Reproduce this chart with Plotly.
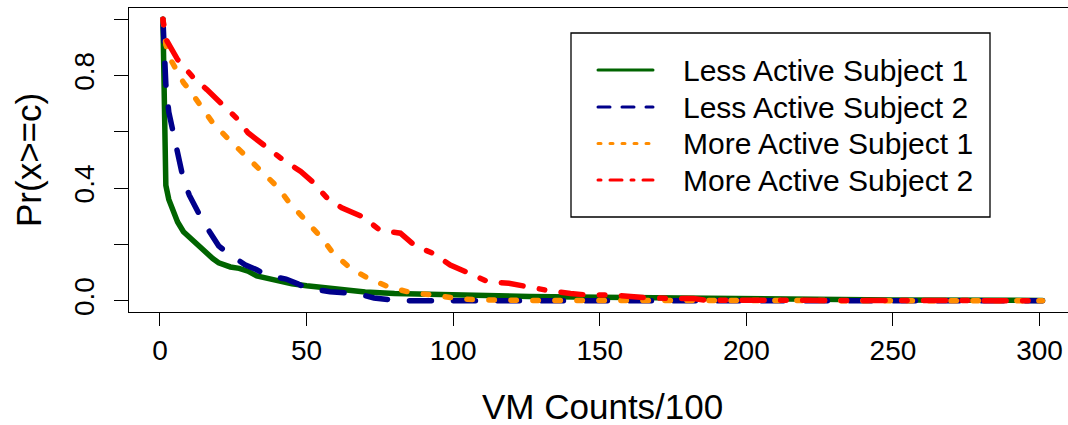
import plotly.graph_objects as go

# Pr(x >= c) for each subject, c = VM counts / 100
c_less1 = [1, 2, 3, 4, 5, 6, 8, 10, 12, 15, 18, 20, 24, 27, 30, 33, 36, 41, 45, 50,
           58, 65, 70, 80, 90, 100, 126, 150, 180, 200, 250, 301]
p_less1 = [1.0, 0.41, 0.36, 0.33, 0.30, 0.28, 0.245, 0.225, 0.21, 0.18, 0.15, 0.135,
           0.12, 0.115, 0.105, 0.088, 0.08, 0.067, 0.06, 0.053, 0.044, 0.036, 0.031,
           0.026, 0.023, 0.02, 0.015, 0.012, 0.008, 0.005, 0.003, 0.001]

c_less2 = [1, 2, 3, 4, 5, 6, 8, 10, 12, 14, 16, 18, 20, 23, 26, 29, 33, 36, 40, 43,
           47, 50, 58, 66, 70, 73, 78, 81, 301]
p_less2 = [1.0, 0.77, 0.67, 0.62, 0.56, 0.51, 0.43, 0.375, 0.33, 0.295, 0.26, 0.225,
           0.195, 0.17, 0.15, 0.128, 0.11, 0.092, 0.083, 0.077, 0.06, 0.045, 0.032,
           0.026, 0.018, 0.01, 0.004, 0.0, 0.0]

c_more1 = [1, 2, 4, 6, 8, 10, 14, 18, 23, 29, 34, 40, 44, 50, 55, 59, 65, 71, 78, 86,
           94, 101, 108, 130, 301]
p_more1 = [1.0, 0.91, 0.85, 0.81, 0.775, 0.75, 0.695, 0.632, 0.578, 0.518, 0.465, 0.405,
           0.35, 0.28, 0.225, 0.17, 0.115, 0.08, 0.049, 0.028, 0.02, 0.008, 0.003,
           0.001, 0.0]

c_more2 = [1, 2, 6, 11, 16, 21, 26, 30, 36, 41, 48, 52, 57, 62, 69, 75, 82, 87, 93, 99,
           105, 112, 119, 125, 132, 140, 146, 154, 161, 166, 174, 182, 186, 301]
p_more2 = [1.0, 0.93, 0.857, 0.797, 0.75, 0.703, 0.65, 0.597, 0.548, 0.508, 0.459, 0.423,
           0.365, 0.33, 0.299, 0.251, 0.24, 0.195, 0.169, 0.127, 0.1, 0.067, 0.062,
           0.049, 0.037, 0.026, 0.02, 0.02, 0.014, 0.011, 0.008, 0.008, 0.002, 0.0]

series_names = ["Less Active Subject 1", "Less Active Subject 2",
                "More Active Subject 1", "More Active Subject 2"]
x_ticks = [0, 50, 100, 150, 200, 250, 300]
y_ticks = [0.0, 0.2, 0.4, 0.6, 0.8, 1.0]
y_tick_text = ["0.0", "", "0.4", "", "0.8", ""]

FONT = "Liberation Sans, Arial, sans-serif"
W, H = 1068, 425
L, R, T, B = 129, 0, 8, 113

colors = ["#006400", "#00008B", "#FF8C00", "#FF0000"]
dashes = ["solid", "22px,22px", "5.5px,16.5px", "5.5px,16.5px,22px,16.5px"]
leg_dashes = ["solid", "12px,12px", "3px,9px", "3px,9px,12px,9px"]


def px_x(px):
    return (px - L) / (W - L - R)


def px_y(py):
    return (H - B - py) / (H - T - B)


fig = go.Figure()
for cx, py_, name, col, dsh in zip(
        [c_less1, c_less2, c_more1, c_more2],
        [p_less1, p_less2, p_more1, p_more2],
        series_names, colors, dashes):
    fig.add_trace(go.Scatter(x=cx, y=py_, mode="lines", name=name,
                             line=dict(color=col, width=5.5, dash=dsh),
                             showlegend=False, hoverinfo="skip"))

shapes = []
annotations = []

# legend box
shapes.append(dict(type="rect", xref="paper", yref="paper",
                   x0=px_x(571), x1=px_x(990), y0=px_y(217), y1=px_y(33),
                   line=dict(color="black", width=1.3), fillcolor="white", layer="above"))
rows = [70, 107, 143.5, 180]
for ry, name, col, dsh in zip(rows, series_names, colors, leg_dashes):
    shapes.append(dict(type="line", xref="paper", yref="paper",
                       x0=px_x(598), x1=px_x(653), y0=px_y(ry), y1=px_y(ry),
                       line=dict(color=col, width=3, dash=dsh), layer="above"))
    annotations.append(dict(text=name, xref="paper", yref="paper",
                            x=px_x(681), y=px_y(ry), xanchor="left", yanchor="middle",
                            showarrow=False, font=dict(family=FONT, size=30, color="black")))

# axis titles
annotations.append(dict(text="VM Counts/100", xref="paper", yref="paper",
                        x=px_x(602), y=px_y(406), xanchor="center", yanchor="middle",
                        showarrow=False, font=dict(family=FONT, size=35, color="black")))
annotations.append(dict(text="Pr(x>=c)", xref="paper", yref="paper",
                        x=px_x(28), y=px_y(160), xanchor="center", yanchor="middle",
                        textangle=-90, showarrow=False,
                        font=dict(family=FONT, size=35, color="black")))

fig.update_layout(
    width=W, height=H,
    margin=dict(l=L, r=R, t=T, b=B, pad=0),
    paper_bgcolor="white", plot_bgcolor="white",
    shapes=shapes, annotations=annotations,
    font=dict(family=FONT, color="black"),
    showlegend=False,
)
fig.update_xaxes(range=[-10.57, 309.7], tickvals=x_ticks, ticks="outside", ticklen=13,
                 tickwidth=1.3, tickcolor="black", showgrid=False, zeroline=False,
                 showline=True, mirror=True, linecolor="black", linewidth=1.3,
                 tickfont=dict(family=FONT, size=28, color="black"))
fig.update_yaxes(range=[-0.04, 1.04], tickvals=y_ticks, ticktext=y_tick_text,
                 ticks="outside", ticklen=14, tickwidth=1.3, tickcolor="black",
                 tickangle=-90, ticklabelstandoff=9, showgrid=False, zeroline=False,
                 showline=True, mirror=False, linecolor="black", linewidth=1.3,
                 tickfont=dict(family=FONT, size=28, color="black"))

round_caps = ("var s=document.createElement('style');"
              "s.textContent='.scatterlayer .js-line, .shapelayer path {stroke-linecap: round;}';"
              "document.head.appendChild(s);")
fig.write_html("out.html", post_script=round_caps)
